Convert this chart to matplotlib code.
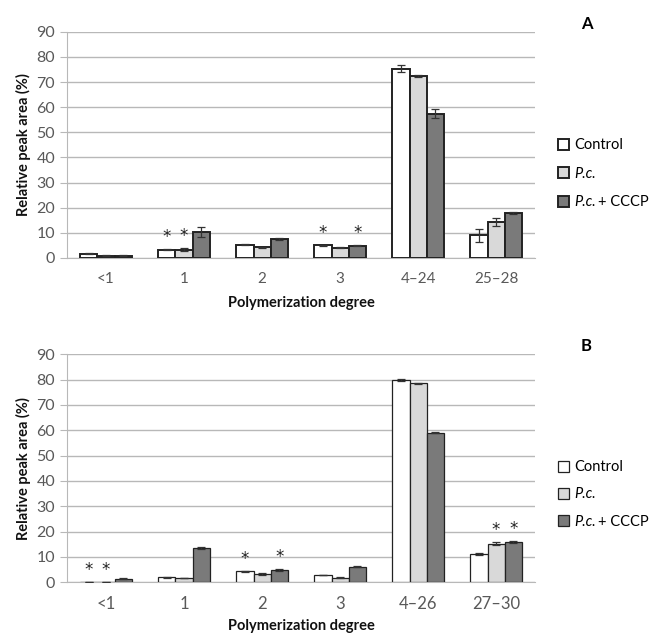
import matplotlib
matplotlib.use("Agg")
import matplotlib.pyplot as plt
import numpy as np

plt.rcParams['font.family'] = ['Lato', 'DejaVu Sans']

series = ['Control', 'P.c.', 'P.c. + CCCP']
colors = ['#ffffff', '#d9d9d9', '#7a7a7a']

cats_a = ['<1', '1', '2', '3', '4\u201324', '25\u201328']
control_a = [1.7, 3.3, 5.3, 5.0, 75.4, 9.0]
pc_a = [0.9, 3.2, 4.3, 4.1, 72.5, 14.5]
cccp_a = [0.9, 10.4, 7.5, 4.9, 57.5, 18.0]
control_a_err = [0.1, 0.3, 0.3, 0.3, 1.4, 2.5]
pc_a_err = [0.1, 0.6, 0.2, 0.2, 0.4, 1.6]
cccp_a_err = [0.1, 1.9, 0.3, 0.3, 1.6, 0.4]
# (category index, series index) with an asterisk
stars_a = [(1, 0), (1, 1), (3, 0), (3, 2)]

cats_b = ['<1', '1', '2', '3', '4\u201326', '27\u201330']
control_b = [0.0, 2.0, 4.3, 2.9, 79.8, 11.2]
pc_b = [0.0, 1.6, 3.3, 1.8, 78.5, 15.2]
cccp_b = [1.3, 13.5, 4.8, 6.2, 59.0, 15.8]
control_b_err = [0.0, 0.2, 0.2, 0.1, 0.3, 0.4]
pc_b_err = [0.0, 0.1, 0.3, 0.2, 0.2, 0.5]
cccp_b_err = [0.2, 0.5, 0.4, 0.1, 0.3, 0.4]
stars_b = [(0, 0), (0, 1), (2, 0), (2, 2), (5, 1), (5, 2)]

fig = plt.figure(figsize=(6.51, 6.37), dpi=100)
legends = []


def panel(rect, cats, vals, errs, stars, letter, leg_y, leg_sp, edge_lw, tick_fs, xpad):
    ax = fig.add_axes(rect)
    x = np.arange(len(cats))
    w = 0.22
    for i, (v, e) in enumerate(zip(vals, errs)):
        ax.bar(x + (i - 1) * w, v, w, color=colors[i], edgecolor='#222222',
               linewidth=edge_lw, label=series[i], zorder=3,
               yerr=e, error_kw=dict(ecolor='#333333', elinewidth=0.9,
                                     capsize=3, capthick=0.9, zorder=4))
    for c, s in stars:
        top = vals[s][c] + errs[s][c]
        ax.text(c + (s - 1) * w, top + 1.2, '*', ha='center', va='bottom',
                fontsize=12, color='#222222', family='DejaVu Sans')
    ax.set_xlim(-0.5, len(cats) - 0.5)
    ax.set_ylim(0, 90)
    ax.set_yticks(range(0, 91, 10))
    ax.set_xticks(x)
    ax.set_xticklabels(cats)
    ax.yaxis.grid(True, color='#b8b8b8', linewidth=1.0, zorder=0)
    for sp in ['top', 'right']:
        ax.spines[sp].set_visible(False)
    ax.spines['left'].set_color('#b8b8b8')
    ax.spines['bottom'].set_color('#b8b8b8')
    ax.tick_params(axis='y', colors='#595959', labelsize=11.5, length=5,
                   color='#b8b8b8')
    ax.tick_params(axis='x', colors='#595959', labelsize=tick_fs, length=0, pad=10)
    ax.set_ylabel('Relative peak area (%)', fontsize=10.5, fontweight='bold',
                  color='#111111', labelpad=4)
    ax.set_xlabel('Polymerization degree', fontsize=10.5, fontweight='bold',
                  color='#111111', labelpad=xpad)
    ax.text(1.11, 1.035, letter, transform=ax.transAxes, fontsize=12,
            fontweight='bold', ha='center', va='center')
    leg = ax.legend(loc='upper left', bbox_to_anchor=(1.036, leg_y), frameon=False,
                    fontsize=10.5, handlelength=0.8, handleheight=0.8,
                    handletextpad=0.3, labelspacing=leg_sp, borderaxespad=0)
    legends.append(leg)
    return ax


panel([0.103, 0.595, 0.719, 0.355],
      cats_a, [control_a, pc_a, cccp_a], [control_a_err, pc_a_err, cccp_a_err],
      stars_a, 'A', 0.555, 1.0, 1.4, 11, 7)
panel([0.103, 0.086, 0.719, 0.358],
      cats_b, [control_b, pc_b, cccp_b], [control_b_err, pc_b_err, cccp_b_err],
      stars_b, 'B', 0.56, 0.9, 0.9, 12, 5)

# italic "P.c." in the legend, roman "+ CCCP" after it
fig.canvas.draw()
renderer = fig.canvas.get_renderer()
for leg in legends:
    texts = leg.get_texts()
    texts[1].set_fontstyle('italic')
    texts[2].set_text('P.c.')
    texts[2].set_fontstyle('italic')
    fig.canvas.draw()
    bb = texts[2].get_window_extent(renderer)
    x0, y0 = fig.transFigure.inverted().transform((bb.x1 + 3, (bb.y0 + bb.y1) / 2))
    fig.text(x0, y0, '+ CCCP', fontsize=10.5, ha='left', va='center')

fig.savefig('out.png', dpi=100)
